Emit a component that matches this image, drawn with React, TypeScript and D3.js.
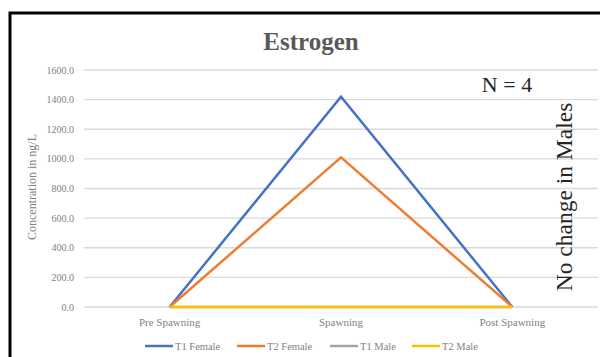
import React from "react";
import * as d3 from "d3";

const categories = ["Pre Spawning", "Spawning", "Post Spawning"];
const seriesNames = ["T1 Female", "T2 Female", "T1 Male", "T2 Male"];
const t1Female = [0, 1420, 0];
const t2Female = [0, 1010, 0];
const t1Male = [0, 0, 0];
const t2Male = [0, 0, 0];
const yTicks = [0, 200, 400, 600, 800, 1000, 1200, 1400, 1600];
const colors = ["#4472c4", "#ed7d31", "#a5a5a5", "#ffc000"];

export default function App() {
  const W = 600, H = 357;
  const left = 84, right = 598, top = 70, bottom = 307;
  const x = d3.scaleBand().domain(categories).range([left, right]);
  const y = d3.scaleLinear().domain([0, 1600]).range([bottom, top]);
  const all = [t1Female, t2Female, t1Male, t2Male];
  const line = d3
    .line<number>()
    .x((_, i) => (x(categories[i]) as number) + x.bandwidth() / 2)
    .y((d) => y(d));
  const legendX = [145, 237, 330, 412];
  const font = "'Liberation Serif', 'Times New Roman', serif";
  const order = [0, 1, 2, 3];
  return (
    <svg
      width={W}
      height={H}
      style={{ position: "absolute", left: 0, top: 0, background: "#fff" }}
      fontFamily={font}
    >
      <rect x={0} y={0} width={W} height={H} fill="#fff" />
      <rect x={10} y={13} width={620} height={380} fill="none" stroke="#000" strokeWidth={3} />
      <text x={311} y={50} textAnchor="middle" fontSize={25} fontWeight="bold" fill="#595959">
        Estrogen
      </text>
      {yTicks.map((t) => (
        <g key={t}>
          <line x1={left} x2={right} y1={y(t)} y2={y(t)} stroke="#d9d9d9" strokeWidth={1.3} />
          <text x={74} y={y(t) + 3.5} textAnchor="end" fontSize={10} fill="#7f7f7f">
            {t.toFixed(1)}
          </text>
        </g>
      ))}
      <text
        transform={`translate(36,187) rotate(-90)`}
        textAnchor="middle"
        fontSize={12}
        fill="#7f7f7f"
      >
        Concentration in ng/L
      </text>
      {categories.map((c) => (
        <text
          key={c}
          x={(x(c) as number) + x.bandwidth() / 2}
          y={326}
          textAnchor="middle"
          fontSize={11}
          fill="#7f7f7f"
        >
          {c}
        </text>
      ))}
      {order.map((i) => (
        <path key={i} d={line(all[i]) as string} fill="none" stroke={colors[i]} strokeWidth={2.5} />
      ))}
      <text x={507} y={92} textAnchor="middle" fontSize={22} fill="#262626">
        N = 4
      </text>
      <text
        transform={`translate(572,197) rotate(-90)`}
        textAnchor="middle"
        fontSize={23.5}
        fill="#262626"
      >
        No change in Males
      </text>
      {seriesNames.map((s, i) => (
        <g key={s}>
          <line x1={legendX[i]} x2={legendX[i] + 28} y1={346} y2={346} stroke={colors[i]} strokeWidth={2.5} />
          <text x={legendX[i] + 30} y={349.5} fontSize={10.5} fill="#7f7f7f">
            {s}
          </text>
        </g>
      ))}
    </svg>
  );
}
